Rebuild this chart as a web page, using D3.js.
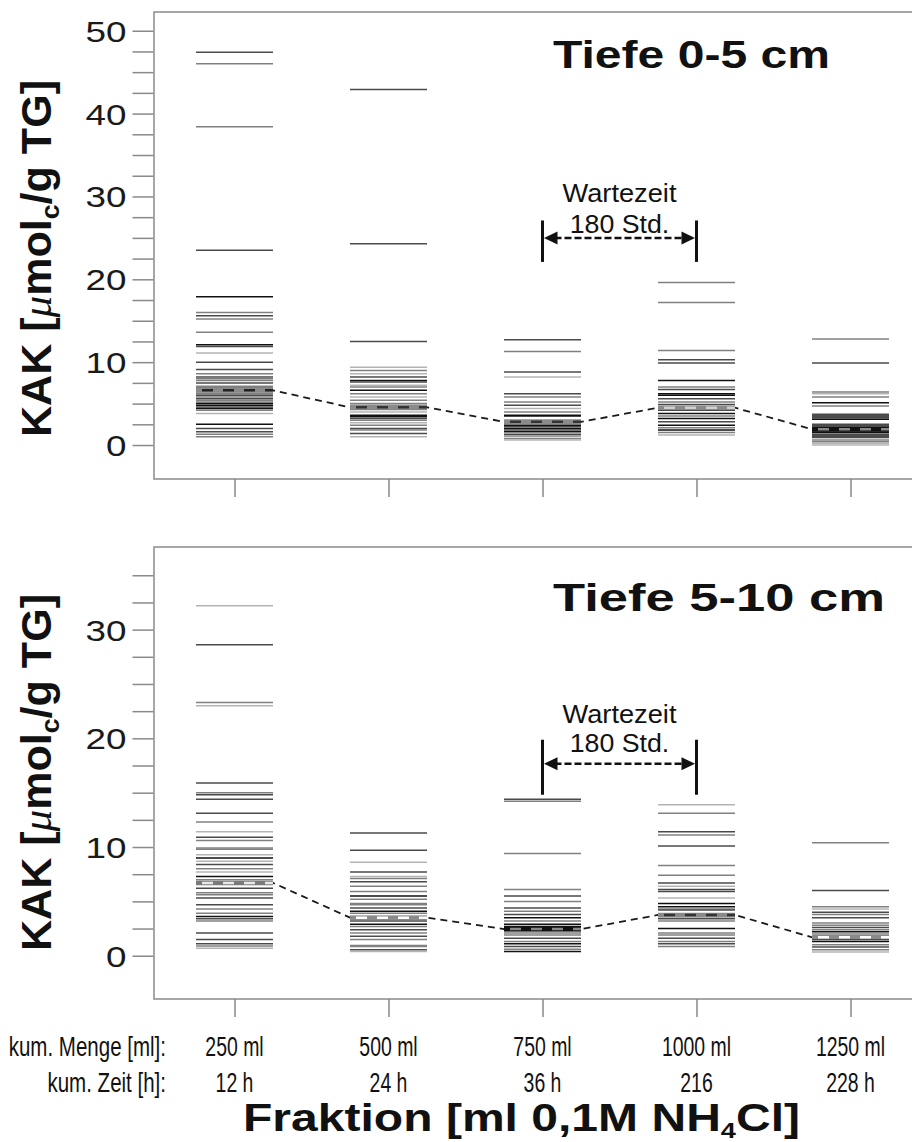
<!DOCTYPE html>
<html><head><meta charset="utf-8">
<script src="https://cdn.jsdelivr.net/npm/d3@7"></script>
<style>body{margin:0;background:#fff}svg{display:block}</style>
</head><body>
<svg id="chart" width="912" height="1142"></svg>
<script>
// ---------------- DATA ----------------
const categories = ["250 ml", "500 ml", "750 ml", "1000 ml", "1250 ml"];
const timeLabels = ["12 h", "24 h", "36 h", "216", "228 h"];
const rowLabels = ["kum. Menge [ml]:", "kum. Zeit [h]:"];

// Depth 0-5 cm: individual KAK values per fraction (µmolc/g TG)
const top250 = [47.4,46.0,38.4,23.5,17.9,16.0,15.6,15.2,13.6,12.1,11.9,11.1,10.0,9.1,8.6,8.2,8.0,7.8,7.5,7.1,6.9,6.4,6.2,6.0,5.8,5.6,5.4,5.2,5.0,4.8,4.6,4.4,4.2,3.8,2.5,2.0,1.6,1.3,1.0];
const top500 = [42.9,24.3,12.5,9.4,9.0,8.6,8.2,7.8,7.6,7.2,7.0,6.6,6.2,5.8,5.4,5.0,4.8,4.6,4.3,4.0,3.6,3.4,3.2,3.0,2.7,2.4,2.0,1.8,1.4,1.0];
const top750 = [12.7,11.3,8.8,8.2,6.2,5.8,5.2,4.8,4.4,4.0,3.6,3.5,3.0,2.8,2.6,2.4,2.2,2.0,1.8,1.6,1.3,1.1,0.8,0.6];
const top1000 = [19.6,17.2,11.4,10.3,9.9,7.8,7.0,6.7,6.2,6.0,5.6,5.2,4.9,4.2,3.8,3.5,3.2,2.8,2.4,2.1,1.8,1.5,1.2];
const top1250 = [12.8,9.9,6.4,6.2,5.8,5.1,4.7,3.7,3.5,3.3,3.1,2.5,2.3,2.1,1.9,1.7,1.5,1.3,1.1,0.9,0.6,0.4,0.2,0.0];
// sample group (grey tone class 0..3) of each value
const top250Grp = [1,2,2,1,0,2,1,2,2,0,1,3,1,1,2,1,2,2,1,2,2,2,2,1,2,1,2,2,0,0,1,0,2,3,0,1,1,2,2];
const top500Grp = [1,1,1,3,2,3,1,0,1,3,2,0,2,3,2,2,2,1,2,3,0,0,1,2,3,2,1,2,1,3];
const top750Grp = [1,2,1,3,1,2,2,1,3,2,0,0,2,2,2,0,1,0,1,0,1,2,2,3];
const top1000Grp = [2,2,2,1,1,0,2,1,0,0,1,2,1,1,0,2,0,1,0,2,0,2,3];
const top1250Grp = [2,1,2,3,2,0,2,1,0,1,0,1,0,0,2,0,0,1,0,1,2,2,3,3];
const topMeans = [6.6, 4.55, 2.8, 4.5, 1.9];

// Depth 5-10 cm
const bot250 = [32.2,28.6,23.3,23.0,15.9,15.0,14.8,14.4,13.1,12.3,11.4,10.9,10.6,9.9,9.8,9.3,9.0,8.7,8.4,8.0,7.7,7.3,7.0,6.2,5.8,5.6,5.3,4.7,4.3,3.9,3.6,3.4,3.2,2.1,1.5,1.1,0.9,0.7];
const bot500 = [11.3,9.7,8.6,7.7,7.3,7.1,6.8,6.4,5.9,5.5,5.2,4.8,4.7,4.4,4.1,3.9,3.6,3.2,2.9,2.7,2.4,2.1,1.8,1.5,0.95,0.85,0.55,0.4];
const bot750 = [14.4,14.2,9.4,6.1,5.5,5.0,4.4,4.1,3.8,3.5,3.2,2.9,2.7,2.5,2.3,2.1,1.9,1.6,1.3,1.1,0.85,0.6,0.4];
const bot1000 = [13.9,13.1,11.4,11.1,10.1,8.3,7.4,6.7,6.4,6.1,5.9,5.3,4.8,4.5,4.3,4.2,3.6,3.4,3.2,2.5,2.1,1.9,1.6,1.3,1.1,0.85];
const bot1250 = [10.4,6.0,4.5,4.3,4.0,3.8,3.5,3.0,2.8,2.6,2.4,2.2,2.0,1.8,1.5,1.3,1.0,0.8,0.55,0.35];
const bot250Grp = [3,1,2,3,1,2,1,1,1,2,3,1,2,2,2,3,0,3,1,2,3,0,2,1,2,2,1,1,2,2,0,1,2,1,1,1,2,3];
const bot500Grp = [1,1,3,1,3,2,1,2,2,0,2,2,2,1,0,2,2,1,0,2,1,2,1,2,2,2,1,3];
const bot750Grp = [1,2,2,2,1,2,1,2,1,0,2,0,0,0,0,2,2,1,2,0,1,2,0];
const bot1000Grp = [3,2,1,2,1,2,2,1,3,1,1,3,0,0,2,1,0,1,2,0,2,2,1,2,1,2];
const bot1250Grp = [2,1,2,3,1,2,1,2,2,1,2,0,2,2,0,0,2,1,2,3];
const botMeans = [6.7, 3.5, 2.45, 3.75, 1.7];

const topTickLabels = [0, 10, 20, 30, 40, 50];
const botTickLabels = [0, 10, 20, 30];

// ---------------- LAYOUT / STYLE ----------------
const svg = d3.select("#chart");
const FONT = "'Liberation Sans', Arial, Helvetica, sans-serif";
const tones = ["#111", "#4a4a4a", "#808080", "#b4b4b4"];
const frameColor = "#8a8a8a";
const frameLeft = 154, frameRight = 940;
const halfW = 38.5;

const x = d3.scalePoint().domain(categories).range([234.5, 850.5]);

// horizontal stretch/condense of a text about its own anchor point
function fitText(node, factor) {
  const x0 = +node.getAttribute("x") || 0;
  const y0 = +node.getAttribute("y") || 0;
  node.setAttribute("x", 0);
  node.setAttribute("y", 0);
  node.setAttribute("transform", `translate(${x0},${y0}) scale(${factor},1)`);
}

const panels = [
  { title: "Tiefe 0-5 cm", values: [top250, top500, top750, top1000, top1250],
    groups: [top250Grp, top500Grp, top750Grp, top1000Grp, top1250Grp], means: topMeans,
    domain: [-4.1, 52.26], yTop: 12, yBot: 479, tickMax: 50, tickLabels: topTickLabels,
    titleX: 553, titleY: 68, titleW: 277, labelCenter: 258.5,
    arrow: 25.0, barHi: 27.1, barLo: 22.1, txt1: 29.33, txt2: 25.59,
    meanUnder: ["#8a8a8a", "#8a8a8a", "#8a8a8a", "#8a8a8a", "#111"],
    meanOver:  ["#222", "#333", "#333", "#d0d0d0", "#8a8a8a"] },
  { title: "Tiefe 5-10 cm", values: [bot250, bot500, bot750, bot1000, bot1250],
    groups: [bot250Grp, bot500Grp, bot750Grp, bot1000Grp, bot1250Grp], means: botMeans,
    domain: [-3.98, 37.6], yTop: 547, yBot: 999, tickMax: 35, tickLabels: botTickLabels,
    titleX: 553, titleY: 611, titleW: 332, labelCenter: 772.5,
    arrow: 17.67, barHi: 19.87, barLo: 14.81, txt1: 21.44, txt2: 18.77,
    meanUnder: ["#7a7a7a", "#8a8a8a", "#111", "#8a8a8a", "#8a8a8a"],
    meanOver:  ["#e8e8e8", "#ffffff", "#8a8a8a", "#333", "#ffffff"] }
];

panels.forEach((p, pi) => {
  const y = d3.scaleLinear().domain(p.domain).range([p.yBot, p.yTop]);
  const g = svg.append("g");

  // data strip lines
  p.values.forEach((vals, ci) => {
    const cx = x(categories[ci]);
    g.append("g").selectAll("line").data(vals.map((v, k) => ({ v, t: p.groups[ci][k] })))
      .join("line")
      .attr("x1", cx - halfW).attr("x2", cx + halfW)
      .attr("y1", d => y(d.v)).attr("y2", d => y(d.v))
      .attr("stroke", d => tones[d.t]).attr("stroke-width", 1.5);
  });

  // mean connecting dashed line
  const pts = [];
  p.means.forEach((m, ci) => {
    const cx = x(categories[ci]);
    pts.push([cx - halfW, m], [cx + halfW, m]);
  });
  g.append("path")
    .attr("d", d3.line().x(d => d[0]).y(d => y(d[1]))(pts))
    .attr("fill", "none").attr("stroke", "#1a1a1a").attr("stroke-width", 1.8)
    .attr("stroke-dasharray", "7,5");
  p.means.forEach((m, ci) => {
    const cx = x(categories[ci]);
    g.append("line").attr("x1", cx - halfW).attr("x2", cx + halfW)
      .attr("y1", y(m)).attr("y2", y(m))
      .attr("stroke", p.meanUnder[ci]).attr("stroke-width", 4.5);
    g.append("line").attr("x1", cx - halfW).attr("x2", cx + halfW)
      .attr("y1", y(m)).attr("y2", y(m))
      .attr("stroke", p.meanOver[ci]).attr("stroke-width", 2.5)
      .attr("stroke-dasharray", "11,10").attr("stroke-dashoffset", -6);
  });

  // frame
  g.append("path")
    .attr("d", `M${frameRight},${p.yTop}H${frameLeft}V${p.yBot}H${frameRight}`)
    .attr("fill", "none").attr("stroke", frameColor).attr("stroke-width", 1.5);

  // y axis
  const yAxis = d3.axisLeft(y)
    .tickValues(d3.range(0, p.tickMax + 0.01, 2.5))
    .tickSize(21).tickPadding(6)
    .tickFormat(d => p.tickLabels.includes(d) ? String(d) : "");
  const ya = g.append("g").attr("transform", `translate(${frameLeft - 0.5},0)`).call(yAxis);
  ya.select(".domain").remove();
  ya.selectAll(".tick line").attr("stroke", frameColor).attr("stroke-width", 1.5);
  ya.selectAll(".tick text").attr("font-family", FONT).attr("font-size", 29)
    .attr("fill", "#1a1a1a").attr("dy", "0.36em").attr("text-anchor", "end")
    .each(function () { if (this.textContent) fitText(this, 1.27); });

  // x axis ticks
  const xa = g.append("g").attr("transform", `translate(0,${p.yBot})`)
    .call(d3.axisBottom(x).tickSize(18).tickFormat(""));
  xa.select(".domain").remove();
  xa.selectAll(".tick line").attr("stroke", frameColor).attr("stroke-width", 1.5);

  // panel title
  g.append("text").attr("x", p.titleX).attr("y", p.titleY)
    .attr("font-family", FONT).attr("font-weight", "bold").attr("font-size", 38)
    .attr("fill", "#111").attr("textLength", p.titleW).attr("lengthAdjust", "spacingAndGlyphs")
    .text(p.title);

  // y axis label
  const yl = g.append("text")
    .attr("transform", `translate(51,${p.labelCenter}) rotate(-90)`)
    .attr("x", -178.5).attr("y", 0)
    .attr("font-family", FONT).attr("font-weight", "bold").attr("font-size", 42)
    .attr("fill", "#111").attr("textLength", 357).attr("lengthAdjust", "spacingAndGlyphs");
  yl.append("tspan").text("KAK [");
  yl.append("tspan").attr("font-family", "'Liberation Serif', 'Times New Roman', serif")
    .attr("font-style", "italic").attr("font-weight", "normal").text("\u03BC");
  yl.append("tspan").text("mol");
  yl.append("tspan").attr("font-size", 26).attr("dy", 8).text("c");
  yl.append("tspan").attr("dy", -8).text("/g TG]");

  // waiting time annotation
  const x3 = x(categories[2]), x4 = x(categories[3]);
  const ay = y(p.arrow);
  [x3, x4].forEach(bx => {
    g.append("line").attr("x1", bx).attr("x2", bx)
      .attr("y1", y(p.barHi)).attr("y2", y(p.barLo))
      .attr("stroke", "#111").attr("stroke-width", 3);
  });
  g.append("line").attr("x1", x3 + 12).attr("x2", x4 - 12).attr("y1", ay).attr("y2", ay)
    .attr("stroke", "#111").attr("stroke-width", 2.5).attr("stroke-dasharray", "7,3");
  g.append("path")
    .attr("d", `M${x3 + 1.5},${ay}L${x3 + 15},${ay - 6.5}L${x3 + 15},${ay + 6.5}Z`)
    .attr("fill", "#111");
  g.append("path")
    .attr("d", `M${x4 - 1.5},${ay}L${x4 - 15},${ay - 6.5}L${x4 - 15},${ay + 6.5}Z`)
    .attr("fill", "#111");
  const mid = (x3 + x4) / 2;
  g.append("text").attr("x", mid).attr("y", y(p.txt1)).attr("text-anchor", "middle")
    .attr("font-family", FONT).attr("font-size", 25).attr("fill", "#111")
    .text("Wartezeit").each(function () { fitText(this, 1.09); });
  g.append("text").attr("x", mid).attr("y", y(p.txt2)).attr("text-anchor", "middle")
    .attr("font-family", FONT).attr("font-size", 25).attr("fill", "#111")
    .text("180 Std.").each(function () { fitText(this, 1.07); });
});

// bottom category labels (two rows)
const rowsY = [1056, 1092];
[categories, timeLabels].forEach((labels, ri) => {
  svg.append("text").attr("x", 166).attr("y", rowsY[ri]).attr("text-anchor", "end")
    .attr("font-family", FONT).attr("font-size", 27).attr("fill", "#111")
    .text(rowLabels[ri]).each(function () { fitText(this, 0.76); });
  svg.append("g").selectAll("text").data(labels).join("text")
    .attr("x", (d, i) => x(categories[i])).attr("y", rowsY[ri]).attr("text-anchor", "middle")
    .attr("font-family", FONT).attr("font-size", 27).attr("fill", "#111")
    .text(d => d).each(function () { fitText(this, 0.72); });
});

// x axis title
const xt = svg.append("text").attr("x", 243).attr("y", 1131)
  .attr("font-family", FONT).attr("font-weight", "bold").attr("font-size", 39)
  .attr("fill", "#111").attr("textLength", 557).attr("lengthAdjust", "spacingAndGlyphs");
xt.append("tspan").text("Fraktion [ml 0,1M NH");
xt.append("tspan").attr("font-size", 22).attr("dy", 7).text("4");
xt.append("tspan").attr("dy", -7).text("Cl]");
</script>
</body></html>
